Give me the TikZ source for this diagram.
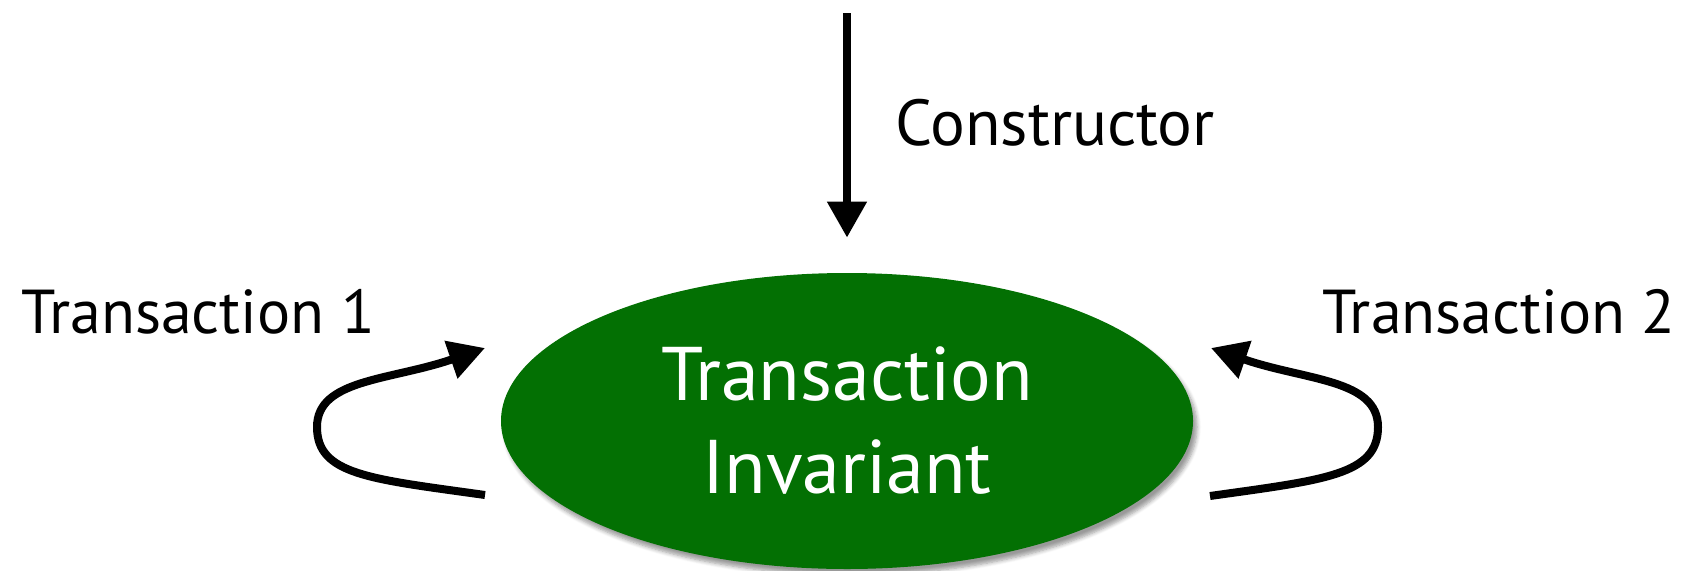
\documentclass[tikz,border=0pt]{standalone}
\usepackage{fontspec}
\setmainfont{PT Sans}
\usepackage{tikz}
\usetikzlibrary{calc}
\usetikzlibrary{positioning,shapes.geometric,arrows.meta,shadows.blur}
\definecolor{invgreen}{RGB}{3,112,3}
\tikzset{state/.style={ellipse, fill=invgreen, text=white, inner sep=0pt, minimum width=346pt, minimum height=148pt, align=center, font=\fontsize{38}{46.5}\selectfont, blur shadow={shadow xshift=2pt, shadow yshift=-3pt, shadow opacity=40, shadow blur steps=6}}}
\tikzset{lbl/.style={inner sep=0pt, font=\fontsize{31}{38}\selectfont}}
\tikzset{flow/.style={line width=4pt, -{Triangle[width=19pt,length=18pt]}}}

\begin{document}
\begin{tikzpicture}[x=0.5pt, y=0.5pt]
	\useasboundingbox (0,0) rectangle (1681,570);
	\node[state] (inv) at (847,149) {Transaction\\Invariant};
	\node[lbl, anchor=base west, font=\fontsize{32.5}{38}\selectfont] (ctor) at (895,425) {Constructor};
	\node[lbl, anchor=base west] (tr1) at (21,237) {Transaction 1};
	\node[lbl, anchor=base east] (tr2) at (1676,237) {Transaction 2};
	
	\coordinate (ctortop) at (847,557);
	\coordinate (tr1out) at ($(inv.center)+(-362,-74)$);
	\coordinate (tr1turn) at ($(inv.center)+(-530,-6)$);
	\coordinate (tr1in) at ($(inv.center)+(-362,73)$);
	\coordinate (tr2out) at ($(inv.center)+(363,-75)$);
	\coordinate (tr2turn) at ($(inv.center)+(531,-6)$);
	\coordinate (tr2in) at ($(inv.center)+(364,73)$);
	
	\draw[flow, shorten >=17.5pt] (ctortop) -- (inv);
	\draw[flow] (tr1out) to[out=172, in=-90, out distance=58pt, in distance=24pt] (tr1turn)
		to[out=90, in=199, out distance=24pt, in distance=50pt] (tr1in);
	\draw[flow] (tr2out) to[out=8, in=-90, out distance=58pt, in distance=24pt] (tr2turn)
		to[out=90, in=-19, out distance=24pt, in distance=50pt] (tr2in);
\end{tikzpicture}
\end{document}
